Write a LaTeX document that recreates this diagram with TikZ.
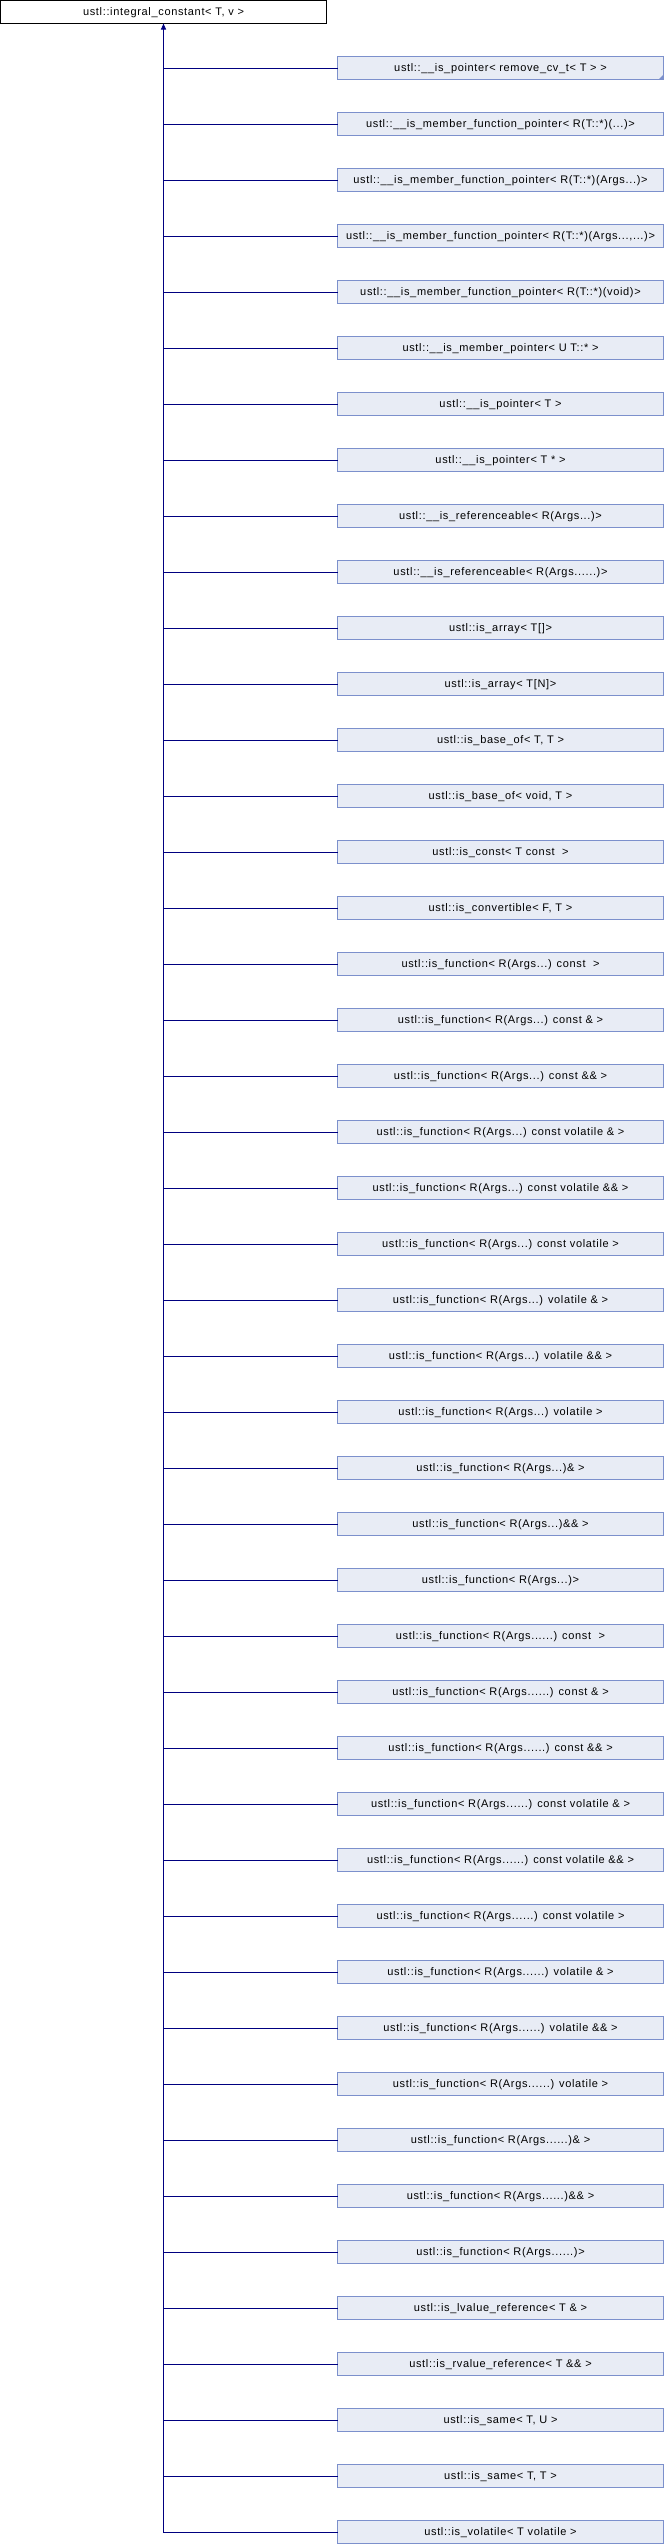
\documentclass[tikz,border=0pt]{standalone}
\usepackage{fontspec}
\setmainfont{Liberation Sans}[LetterSpace=6]
\usepackage{tikz}
\usetikzlibrary{arrows.meta}
\definecolor{boxfill}{RGB}{232,236,245}
\definecolor{boxline}{RGB}{124,144,204}
\definecolor{edgeblue}{RGB}{0,0,128}

\begin{document}
\begin{tikzpicture}[
   x=1pt,y=1pt,
   every matrix/.style={column sep=10pt,row sep=32pt,inner sep=0pt,outer sep=0pt},
   base/.style={draw=black,fill=white,line width=1pt,inner sep=0pt,outer sep=0pt,minimum width=326pt,minimum height=23pt,text height=8pt,text depth=2pt,font=\fontsize{11}{13}\selectfont},
   cls/.style={base,draw=boxline,fill=boxfill},
   to/.style={-{Triangle[length=6pt,width=5pt]},edgeblue,line width=1pt},
   link/.style={edgeblue,line width=1pt}]
\useasboundingbox (0,0) rectangle (664,-2544);
\matrix (m) [anchor=north west] at (0,0) {
\node[base] (IC) {ustl::integral\_constant< T, v >}; & \\
& \node[cls] (ipRCV) {ustl::\_\_is\_pointer< remove\_cv\_t< T > >}; \\
& \node[cls] (mfpE) {ustl::\_\_is\_member\_function\_pointer< R(T::*)(...)>}; \\
& \node[cls] (mfpA) {ustl::\_\_is\_member\_function\_pointer< R(T::*)(Args...)>}; \\
& \node[cls] (mfpAE) {ustl::\_\_is\_member\_function\_pointer< R(T::*)(Args...,...)>}; \\
& \node[cls] (mfpV) {ustl::\_\_is\_member\_function\_pointer< R(T::*)(void)>}; \\
& \node[cls] (mp) {ustl::\_\_is\_member\_pointer< U T::* >}; \\
& \node[cls] (ipT) {ustl::\_\_is\_pointer< T >}; \\
& \node[cls] (ipTs) {ustl::\_\_is\_pointer< T * >}; \\
& \node[cls] (refA) {ustl::\_\_is\_referenceable< R(Args...)>}; \\
& \node[cls] (refAE) {ustl::\_\_is\_referenceable< R(Args......)>}; \\
& \node[cls] (arr) {ustl::is\_array< T[]>}; \\
& \node[cls] (arrN) {ustl::is\_array< T[N]>}; \\
& \node[cls] (baseTT) {ustl::is\_base\_of< T, T >}; \\
& \node[cls] (baseVT) {ustl::is\_base\_of< void, T >}; \\
& \node[cls] (constT) {ustl::is\_const< T const\ \ >}; \\
& \node[cls] (convFT) {ustl::is\_convertible< F, T >}; \\
& \node[cls] (fnC) {ustl::is\_function< R(Args...) const\ \ >}; \\
& \node[cls] (fnCr) {ustl::is\_function< R(Args...) const \& >}; \\
& \node[cls] (fnCrr) {ustl::is\_function< R(Args...) const \&\& >}; \\
& \node[cls] (fnCVr) {ustl::is\_function< R(Args...) const volatile \& >}; \\
& \node[cls] (fnCVrr) {ustl::is\_function< R(Args...) const volatile \&\& >}; \\
& \node[cls] (fnCV) {ustl::is\_function< R(Args...) const volatile >}; \\
& \node[cls] (fnVr) {ustl::is\_function< R(Args...) volatile \& >}; \\
& \node[cls] (fnVrr) {ustl::is\_function< R(Args...) volatile \&\& >}; \\
& \node[cls] (fnV) {ustl::is\_function< R(Args...) volatile >}; \\
& \node[cls] (fnr) {ustl::is\_function< R(Args...)\& >}; \\
& \node[cls] (fnrr) {ustl::is\_function< R(Args...)\&\& >}; \\
& \node[cls] (fn) {ustl::is\_function< R(Args...)>}; \\
& \node[cls] (fneC) {ustl::is\_function< R(Args......) const\ \ >}; \\
& \node[cls] (fneCr) {ustl::is\_function< R(Args......) const \& >}; \\
& \node[cls] (fneCrr) {ustl::is\_function< R(Args......) const \&\& >}; \\
& \node[cls] (fneCVr) {ustl::is\_function< R(Args......) const volatile \& >}; \\
& \node[cls] (fneCVrr) {ustl::is\_function< R(Args......) const volatile \&\& >}; \\
& \node[cls] (fneCV) {ustl::is\_function< R(Args......) const volatile >}; \\
& \node[cls] (fneVr) {ustl::is\_function< R(Args......) volatile \& >}; \\
& \node[cls] (fneVrr) {ustl::is\_function< R(Args......) volatile \&\& >}; \\
& \node[cls] (fneV) {ustl::is\_function< R(Args......) volatile >}; \\
& \node[cls] (fner) {ustl::is\_function< R(Args......)\& >}; \\
& \node[cls] (fnerr) {ustl::is\_function< R(Args......)\&\& >}; \\
& \node[cls] (fne) {ustl::is\_function< R(Args......)>}; \\
& \node[cls] (lref) {ustl::is\_lvalue\_reference< T \& >}; \\
& \node[cls] (rref) {ustl::is\_rvalue\_reference< T \&\& >}; \\
& \node[cls] (sameTU) {ustl::is\_same< T, U >}; \\
& \node[cls] (sameTT) {ustl::is\_same< T, T >}; \\
& \node[cls] (vol) {ustl::is\_volatile< T volatile >}; \\
};
% folded corner of the truncated class
\fill[boxline] (ipRCV.south east) -- ++(-5,0) -- ++(5,5) -- cycle;
% inheritance
\draw[to] (vol.west) -| (IC.south);
\draw[link] (ipRCV.west) -- (ipRCV.west -| IC.south);
\draw[link] (mfpE.west) -- (mfpE.west -| IC.south);
\draw[link] (mfpA.west) -- (mfpA.west -| IC.south);
\draw[link] (mfpAE.west) -- (mfpAE.west -| IC.south);
\draw[link] (mfpV.west) -- (mfpV.west -| IC.south);
\draw[link] (mp.west) -- (mp.west -| IC.south);
\draw[link] (ipT.west) -- (ipT.west -| IC.south);
\draw[link] (ipTs.west) -- (ipTs.west -| IC.south);
\draw[link] (refA.west) -- (refA.west -| IC.south);
\draw[link] (refAE.west) -- (refAE.west -| IC.south);
\draw[link] (arr.west) -- (arr.west -| IC.south);
\draw[link] (arrN.west) -- (arrN.west -| IC.south);
\draw[link] (baseTT.west) -- (baseTT.west -| IC.south);
\draw[link] (baseVT.west) -- (baseVT.west -| IC.south);
\draw[link] (constT.west) -- (constT.west -| IC.south);
\draw[link] (convFT.west) -- (convFT.west -| IC.south);
\draw[link] (fnC.west) -- (fnC.west -| IC.south);
\draw[link] (fnCr.west) -- (fnCr.west -| IC.south);
\draw[link] (fnCrr.west) -- (fnCrr.west -| IC.south);
\draw[link] (fnCVr.west) -- (fnCVr.west -| IC.south);
\draw[link] (fnCVrr.west) -- (fnCVrr.west -| IC.south);
\draw[link] (fnCV.west) -- (fnCV.west -| IC.south);
\draw[link] (fnVr.west) -- (fnVr.west -| IC.south);
\draw[link] (fnVrr.west) -- (fnVrr.west -| IC.south);
\draw[link] (fnV.west) -- (fnV.west -| IC.south);
\draw[link] (fnr.west) -- (fnr.west -| IC.south);
\draw[link] (fnrr.west) -- (fnrr.west -| IC.south);
\draw[link] (fn.west) -- (fn.west -| IC.south);
\draw[link] (fneC.west) -- (fneC.west -| IC.south);
\draw[link] (fneCr.west) -- (fneCr.west -| IC.south);
\draw[link] (fneCrr.west) -- (fneCrr.west -| IC.south);
\draw[link] (fneCVr.west) -- (fneCVr.west -| IC.south);
\draw[link] (fneCVrr.west) -- (fneCVrr.west -| IC.south);
\draw[link] (fneCV.west) -- (fneCV.west -| IC.south);
\draw[link] (fneVr.west) -- (fneVr.west -| IC.south);
\draw[link] (fneVrr.west) -- (fneVrr.west -| IC.south);
\draw[link] (fneV.west) -- (fneV.west -| IC.south);
\draw[link] (fner.west) -- (fner.west -| IC.south);
\draw[link] (fnerr.west) -- (fnerr.west -| IC.south);
\draw[link] (fne.west) -- (fne.west -| IC.south);
\draw[link] (lref.west) -- (lref.west -| IC.south);
\draw[link] (rref.west) -- (rref.west -| IC.south);
\draw[link] (sameTU.west) -- (sameTU.west -| IC.south);
\draw[link] (sameTT.west) -- (sameTT.west -| IC.south);
\end{tikzpicture}
\end{document}
